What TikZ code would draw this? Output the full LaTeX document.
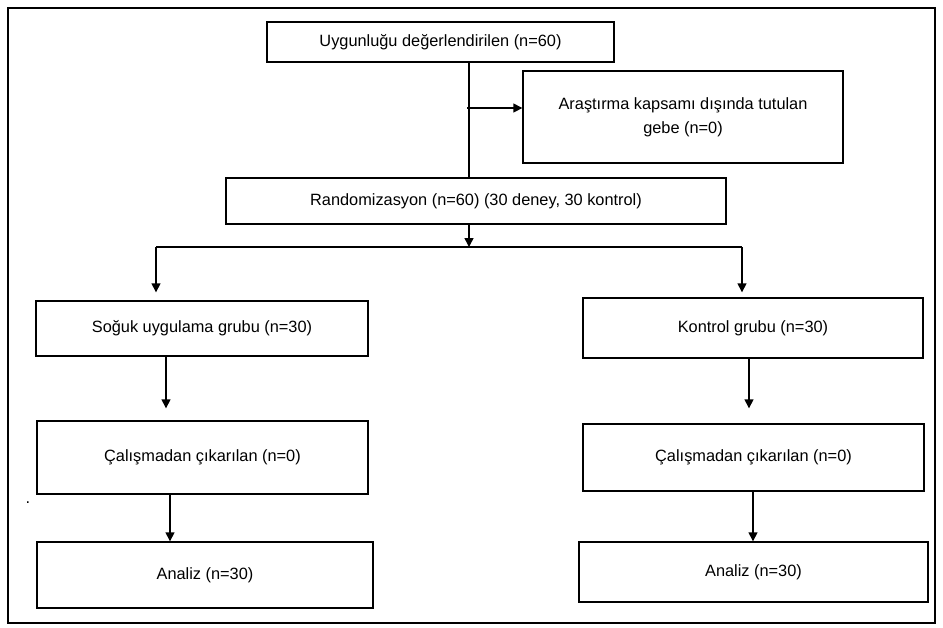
\documentclass[tikz,border=0pt]{standalone}
\usepackage{fontspec}
\setmainfont{Liberation Sans}
\usetikzlibrary{arrows.meta}

\begin{document}
\begin{tikzpicture}[x=0.02cm,y=-0.02cm,font=\fontsize{9.3}{11}\selectfont]
    \tikzstyle{B}=[rectangle,draw,line width=0.8pt,align=center,inner sep=0pt]
    \tikzstyle{A}=[line width=0.8pt,-{Triangle[length=1.8mm,width=1.8mm]}]
    \tikzstyle{L}=[line width=0.8pt]

    \useasboundingbox (0,0) rectangle (943,627);
    % Frame
    \draw [line width=0.6pt] (8,8) rectangle (935,623);

    \node [B, minimum width=6.94cm, minimum height=0.80cm] (elig) at (440.5,42) {Uygunluğu değerlendirilen (n=60)};
    \node [B, minimum width=6.40cm, minimum height=1.84cm] (excl) at (683,117) {Araştırma kapsamı dışında tutulan\\[2.5pt]gebe (n=0)};
    \node [B, minimum width=10.0cm, minimum height=0.92cm] (rand) at (476,201) {Randomizasyon (n=60) (30 deney, 30 kontrol)};

    % Soguk uygulama
    \node [B, minimum width=6.64cm, minimum height=1.10cm] (cold) at (202,328.5) {Soğuk uygulama grubu (n=30)};
    \node [B, minimum width=6.62cm, minimum height=1.46cm] (coldout) at (202.5,457.5) {Çalışmadan çıkarılan (n=0)};
    \node [B, minimum width=6.72cm, minimum height=1.32cm] (coldan) at (205,575) {Analiz (n=30)};

    % Kontrol
    \node [B, minimum width=6.80cm, minimum height=1.20cm] (ctrl) at (753,328) {Kontrol grubu (n=30)};
    \node [B, minimum width=6.82cm, minimum height=1.34cm] (ctrlout) at (753.5,457.5) {Çalışmadan çıkarılan (n=0)};
    \node [B, minimum width=6.98cm, minimum height=1.20cm] (ctrlan) at (753.5,572) {Analiz (n=30)};

    \node [anchor=base] (dot) at (28,503) {.};

    \coordinate (tx) at (469,0);
    \coordinate (ex) at (467,108);
    \coordinate (sl) at (156,247);
    \coordinate (sr) at (742,247);

    \draw [L] (elig.south -| tx) -- (rand.north -| tx);
    \draw [A] (ex) -- (ex -| excl.west);
    \draw [A] (rand.south -| tx) -- (tx |- sl);
    \draw [L] (sl) -- (sr);
    \draw [A, shorten >=0.16cm] (sl) -- (sl |- cold.north);
    \draw [A, shorten >=0.10cm] (sr) -- (sr |- ctrl.north);

    \draw [A, shorten >=0.24cm] (166,0 |- cold.south) -- (166,0 |- coldout.north);
    \draw [A, shorten >=0.30cm] (749,0 |- ctrl.south) -- (749,0 |- ctrlout.north);
    \draw [A] (170,0 |- coldout.south) -- (170,0 |- coldan.north);
    \draw [A] (753,0 |- ctrlout.south) -- (753,0 |- ctrlan.north);
\end{tikzpicture}
\end{document}
